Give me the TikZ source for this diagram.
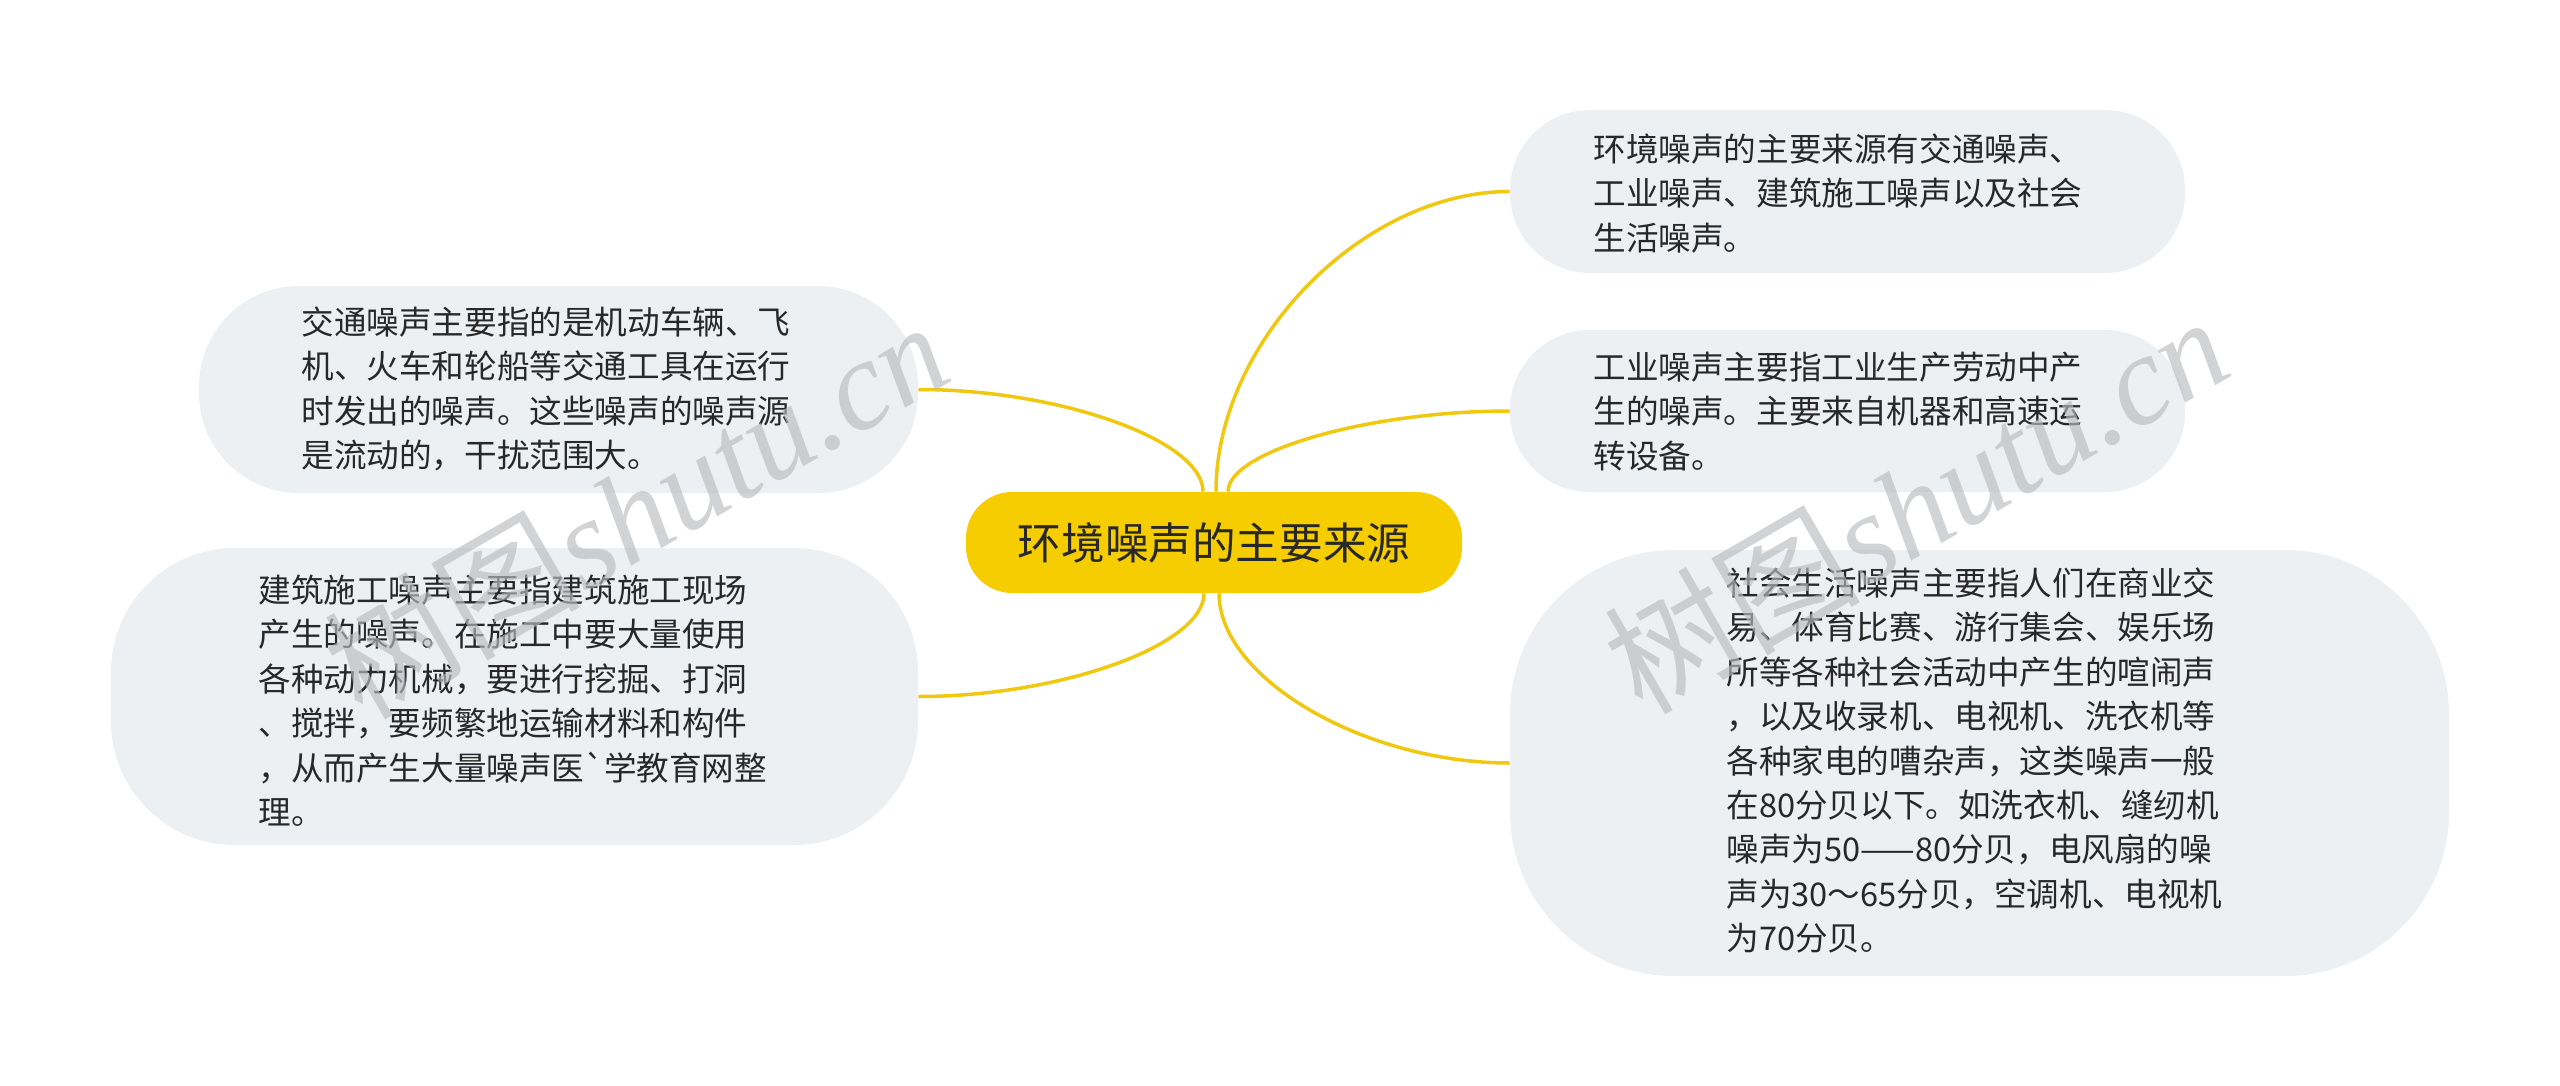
\documentclass[tikz,border=0pt]{standalone}
\usepackage{fontspec}
\newfontfamily\cjk{Noto Sans CJK SC}
\newfontfamily\wmserif{Liberation Serif}
\usetikzlibrary{calc}
\pgfdeclarelayer{background}
\pgfsetlayers{background,main}
\definecolor{hub}{RGB}{245,205,0}
\definecolor{link}{RGB}{240,200,16}
\definecolor{bub}{RGB}{237,240,243}
\definecolor{ink}{RGB}{40,40,40}
\definecolor{wm}{RGB}{185,188,192}
\newcommand\txtlines[1]{\begin{tabular}[t]{@{}l@{}}#1\end{tabular}}
\newcommand\mmlink[2]{\draw[conn] (#1) .. controls ($(#1)!0.5!(#1|-#2)$) and ($(#2)!0.5!(#1|-#2)$) .. (#2);}
\begin{document}
\begin{tikzpicture}[x=0.5pt,y=-0.5pt,
 bubble/.style={fill=bub, draw=none, inner sep=0pt},
 hubnode/.style={fill=hub, rounded corners=23pt, minimum width=248pt, minimum height=50.5pt, inner sep=0pt, font=\cjk\fontsize{21.8}{25}\selectfont, text=ink},
 txt/.style={anchor=base west, inner sep=0pt, text=ink, font=\cjk\fontsize{16.3}{22.2}\selectfont},
 conn/.style={draw=link, line width=1.75pt},
 wmark/.style={text=wm, opacity=0.65, font=\wmserif\itshape\fontsize{64}{64}\selectfont, rotate=30, anchor=base, inner sep=0pt}]
\useasboundingbox (0,0) rectangle (2560,1086);

\node[hubnode] (C) at (1214,542.5) {环境噪声的主要来源};

\node[bubble, minimum width=359.5pt, minimum height=103.5pt, rounded corners=50pt] (L1) at (558.5,389.5) {};
\node[txt] (L1t) at (301,334.5) {\txtlines{交通噪声主要指的是机动车辆、飞\\机、火车和轮船等交通工具在运行\\时发出的噪声。这些噪声的噪声源\\是流动的，干扰范围大。}};

\node[bubble, minimum width=403.5pt, minimum height=148.5pt, rounded corners=62pt] (L2) at (514.5,696.5) {};
\node[txt] (L2t) at (258,602.5) {\txtlines{建筑施工噪声主要指建筑施工现场\\产生的噪声。在施工中要大量使用\\各种动力机械，要进行挖掘、打洞\\、搅拌，要频繁地运输材料和构件\\，从而产生大量噪声医\symbol{96}学教育网整\\理。}};

\node[bubble, minimum width=337.5pt, minimum height=81.5pt, rounded corners=40pt] (R1) at (1847.5,191.5) {};
\node[txt] (R1t) at (1593,161.5) {\txtlines{环境噪声的主要来源有交通噪声、\\工业噪声、建筑施工噪声以及社会\\生活噪声。}};

\node[bubble, minimum width=337.5pt, minimum height=81pt, rounded corners=40pt] (R2) at (1847.5,411) {};
\node[txt] (R2t) at (1593,379.5) {\txtlines{工业噪声主要指工业生产劳动中产\\生的噪声。主要来自机器和高速运\\转设备。}};

\node[bubble, minimum width=469.5pt, minimum height=213pt, rounded corners=82pt] (R3) at (1979.5,763) {};
\node[txt] (R3t) at (1726,595.5) {\txtlines{社会生活噪声主要指人们在商业交\\易、体育比赛、游行集会、娱乐场\\所等各种社会活动中产生的喧闹声\\，以及收录机、电视机、洗衣机等\\各种家电的嘈杂声，这类噪声一般\\在80分贝以下。如洗衣机、缝纫机\\噪声为50——80分贝，电风扇的噪\\声为30～65分贝，空调机、电视机\\为70分贝。}};

\coordinate (t1) at ($(C.north)+(-11,0)$);
\coordinate (t2) at ($(C.north)+(2,0)$);
\coordinate (t3) at ($(C.north)+(14,0)$);
\coordinate (b1) at ($(C.south)+(-10,0)$);
\coordinate (b2) at ($(C.south)+(5,0)$);

\begin{pgfonlayer}{background}
\fill[white] (0,0) rectangle (2560,1086);
\mmlink{t1}{L1.east}
\mmlink{t2}{R1.west}
\mmlink{t3}{R2.west}
\mmlink{b1}{L2.east}
\mmlink{b2}{R3.west}
\end{pgfonlayer}

\node[wmark] (wm1) at (660,550) {{\cjk 树图}shutu.cn};
\node[wmark] (wm2) at (1940,545) {{\cjk 树图}shutu.cn};
\end{tikzpicture}
\end{document}
